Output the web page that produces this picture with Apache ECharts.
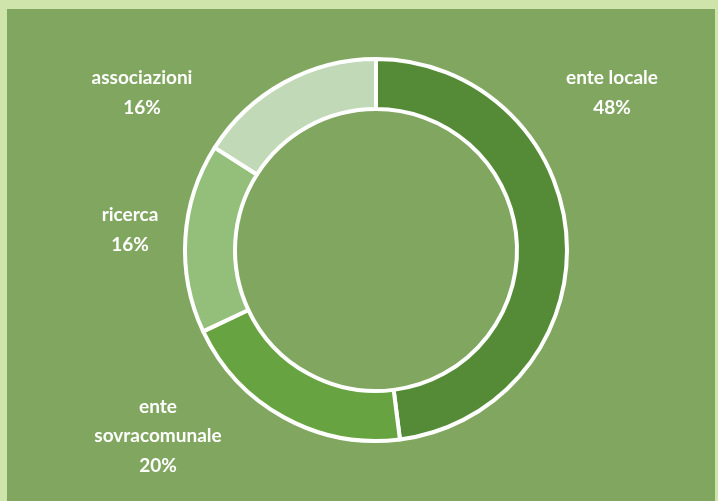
<!DOCTYPE html>
<html>
<head>
<meta charset="utf-8">
<script src="https://cdn.jsdelivr.net/npm/echarts@6/dist/echarts.min.js"></script>
<style>
  html, body { margin: 0; padding: 0; background: #cfe4aa; }
  #wrap { position: absolute; left: 7px; top: 9px; width: 708px; height: 492px; background: #80a660; }
  #chart { position: absolute; left: 0; top: 0; width: 718px; height: 501px; }
</style>
</head>
<body>
<div id="wrap"></div>
<div id="chart"></div>
<script>
// data
let categories = ['ente locale', 'ente sovracomunale', 'ricerca', 'associazioni'];
let values = [48, 20, 16, 16];
let labelText = ['ente locale\n48%', 'ente\nsovracomunale\n20%', 'ricerca\n16%', 'associazioni\n16%'];
let colors = ['#558b37', '#68a341', '#93bf7b', '#c2d9b8'];

// where each label sits (centre of the text block)
let labelPos = [[612, 93], [158, 436], [130, 230], [142, 93]];

let chartDom = document.getElementById('chart');
let myChart = echarts.init(chartDom);

let pieData = [];
for (let i in categories) {
    pieData.push({ name: categories[i], value: values[i], itemStyle: { color: colors[i] } });
}

let option = {
    animation: false,
    backgroundColor: 'transparent',
    series: [
        {
            type: 'pie',
            center: [376, 250],
            radius: [141, 191],
            startAngle: 90,
            clockwise: true,
            itemStyle: {
                borderColor: '#ffffff',
                borderWidth: 4
            },
            label: {
                show: true,
                position: 'outside',
                formatter: function (p) { return labelText[p.dataIndex]; },
                color: '#ffffff',
                fontFamily: 'Lato',
                fontWeight: 'bold',
                fontSize: 19,
                lineHeight: 29.5,
                align: 'center',
                overflow: 'none',
                width: 200
            },
            labelLine: { show: false },
            labelLayout: function (params) {
                let p = labelPos[params.dataIndex];
                return { x: p[0], y: p[1], align: 'center', verticalAlign: 'middle' };
            },
            emphasis: { disabled: true },
            data: pieData
        }
    ]
};

option && myChart.setOption(option);
</script>
</body>
</html>
